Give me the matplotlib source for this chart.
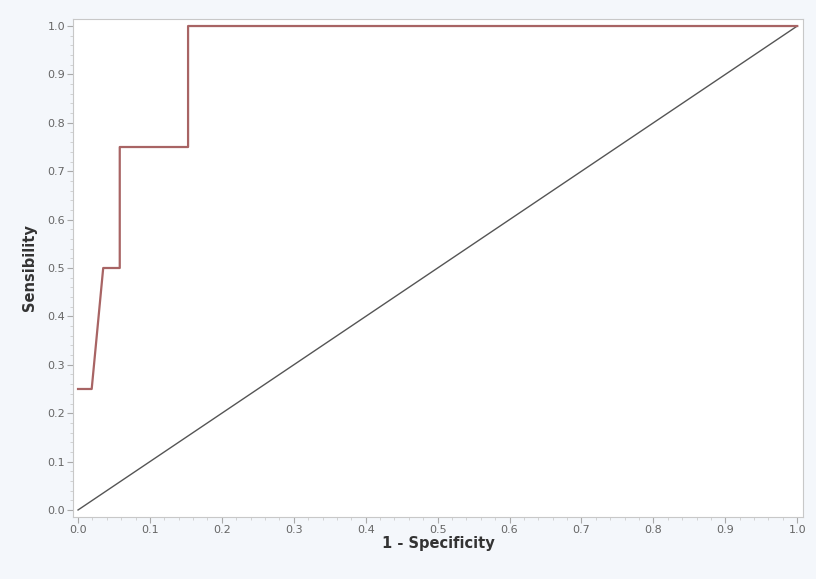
import matplotlib
matplotlib.use("Agg")
import matplotlib.pyplot as plt
from matplotlib.ticker import MultipleLocator

fpr = [0.0, 0.019, 0.035, 0.058, 0.058, 0.153, 0.153, 1.0]
tpr = [0.25, 0.25, 0.50, 0.50, 0.75, 0.75, 1.0, 1.0]
diag_x = [0.0, 1.0]
diag_y = [0.0, 1.0]
ticks = [0.0, 0.1, 0.2, 0.3, 0.4, 0.5, 0.6, 0.7, 0.8, 0.9, 1.0]
tick_labels = [f"{t:.1f}" for t in ticks]

fig = plt.figure(figsize=(8.16, 5.79), dpi=100, facecolor="#f4f7fb")
ax = fig.add_axes([73/816, 1-517/579, 730/816, 498/579])
ax.set_facecolor("white")
ax.plot(diag_x, diag_y, color="#555555", lw=1.0)
ax.plot(fpr, tpr, color="#a86464", lw=1.6)
ax.set_xlim(-0.007, 1.008)
ax.set_ylim(-0.0145, 1.0145)
ax.set_xticks(ticks)
ax.set_xticklabels(tick_labels)
ax.set_yticks(ticks)
ax.set_yticklabels(tick_labels)
ax.xaxis.set_minor_locator(MultipleLocator(0.02))
ax.yaxis.set_minor_locator(MultipleLocator(0.02))
ax.tick_params(which="major", length=4, color="#aaaaaa", labelsize=8, labelcolor="#666666", pad=1.5)
ax.tick_params(which="minor", length=2.5, color="#cccccc")
for s in ax.spines.values():
    s.set_color("#c8c8c8")
ax.set_xlabel("1 - Specificity", fontsize=10.5, fontweight="bold", color="#333333", labelpad=1)
ax.set_ylabel("Sensibility", fontsize=10.5, fontweight="bold", color="#333333", labelpad=8)
fig.savefig("out.png", dpi=100, facecolor=fig.get_facecolor())
